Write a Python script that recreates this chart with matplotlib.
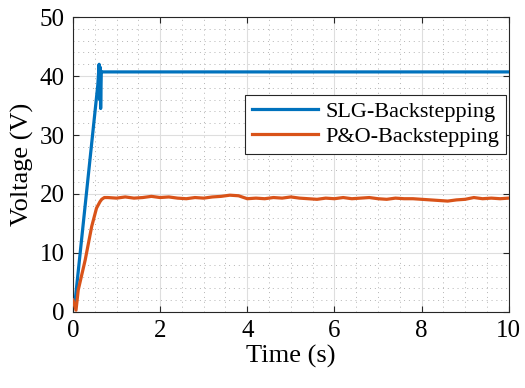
import numpy as np
import matplotlib
matplotlib.use('Agg')
import matplotlib.pyplot as plt
from matplotlib.ticker import MultipleLocator

# SLG-Backstepping voltage
t_slg = [0.0, 0.04, 0.57, 0.60, 0.615, 0.625, 0.635, 0.65, 0.67, 10.0]
v_slg = [2.0, 1.2, 38.5, 42.0, 36.0, 41.5, 34.5, 40.8, 40.7, 40.7]

# P&O-Backstepping voltage
t_po = [0.0, 0.07, 0.12, 0.28, 0.43, 0.54, 0.62, 0.66, 0.72,
        0.8, 1.0, 1.2, 1.4, 1.6, 1.8, 2.0, 2.2, 2.4, 2.6, 2.8, 3.0, 3.2, 3.4,
        3.6, 3.8, 4.0, 4.2, 4.4, 4.6, 4.8, 5.0, 5.2, 5.4, 5.6, 5.8, 6.0, 6.2,
        6.4, 6.6, 6.8, 7.0, 7.2, 7.4, 7.6, 7.8, 8.0, 8.2, 8.4, 8.6, 8.8, 9.0,
        9.2, 9.4, 9.6, 9.8, 10.0]
v_po = [2.0, 0.3, 3.7, 8.8, 14.5, 17.6, 18.7, 19.1, 19.4,
        19.4, 19.3, 19.5, 19.3, 19.4, 19.6, 19.4, 19.5, 19.3, 19.2, 19.4, 19.3,
        19.5, 19.6, 19.8, 19.7, 19.2, 19.3, 19.2, 19.4, 19.3, 19.5, 19.3, 19.2,
        19.1, 19.3, 19.2, 19.4, 19.2, 19.3, 19.4, 19.2, 19.1, 19.3, 19.2, 19.2,
        19.1, 19.0, 18.9, 18.8, 19.0, 19.1, 19.4, 19.2, 19.3, 19.2, 19.3]

plt.rcParams['font.family'] = 'Liberation Serif'

fig = plt.figure(figsize=(5.25, 3.88), dpi=100)
ax = fig.add_axes([0.139, 0.196, 0.830, 0.760])

ax.plot(t_slg, v_slg, color='#0072BD', lw=2.3, label='SLG-Backstepping', zorder=3)
ax.plot(t_po, v_po, color='#D95319', lw=2.3, label='P&O-Backstepping', zorder=3)

ax.set_xlim(0, 10)
ax.set_ylim(0, 50)
ax.xaxis.set_major_locator(MultipleLocator(2))
ax.yaxis.set_major_locator(MultipleLocator(10))
ax.xaxis.set_minor_locator(MultipleLocator(0.5))
ax.yaxis.set_minor_locator(MultipleLocator(2))
ax.grid(which='major', color='#dedede', lw=0.8)
ax.grid(which='minor', color='#b4b4b4', lw=0.7, linestyle=(0, (1, 4)))
ax.set_axisbelow(True)

ax.tick_params(which='both', direction='in', top=True, right=True,
               labelsize=18, color='#262626', pad=6)
ax.tick_params(which='major', length=4)
ax.tick_params(which='minor', length=0)
for s in ax.spines.values():
    s.set_color('#262626')
    s.set_linewidth(0.8)

ax.set_xlabel('Time (s)', fontsize=19, labelpad=2)
ax.set_ylabel('Voltage (V)', fontsize=19, labelpad=4)

leg = ax.legend(loc='upper right', bbox_to_anchor=(0.993, 0.736), fontsize=16,
                handlelength=3.0, fancybox=False, framealpha=1,
                edgecolor='#262626', borderpad=0.3, labelspacing=0.2,
                handletextpad=0.3, borderaxespad=0)
leg.get_frame().set_linewidth(0.8)

fig.savefig('out.png', dpi=100)
